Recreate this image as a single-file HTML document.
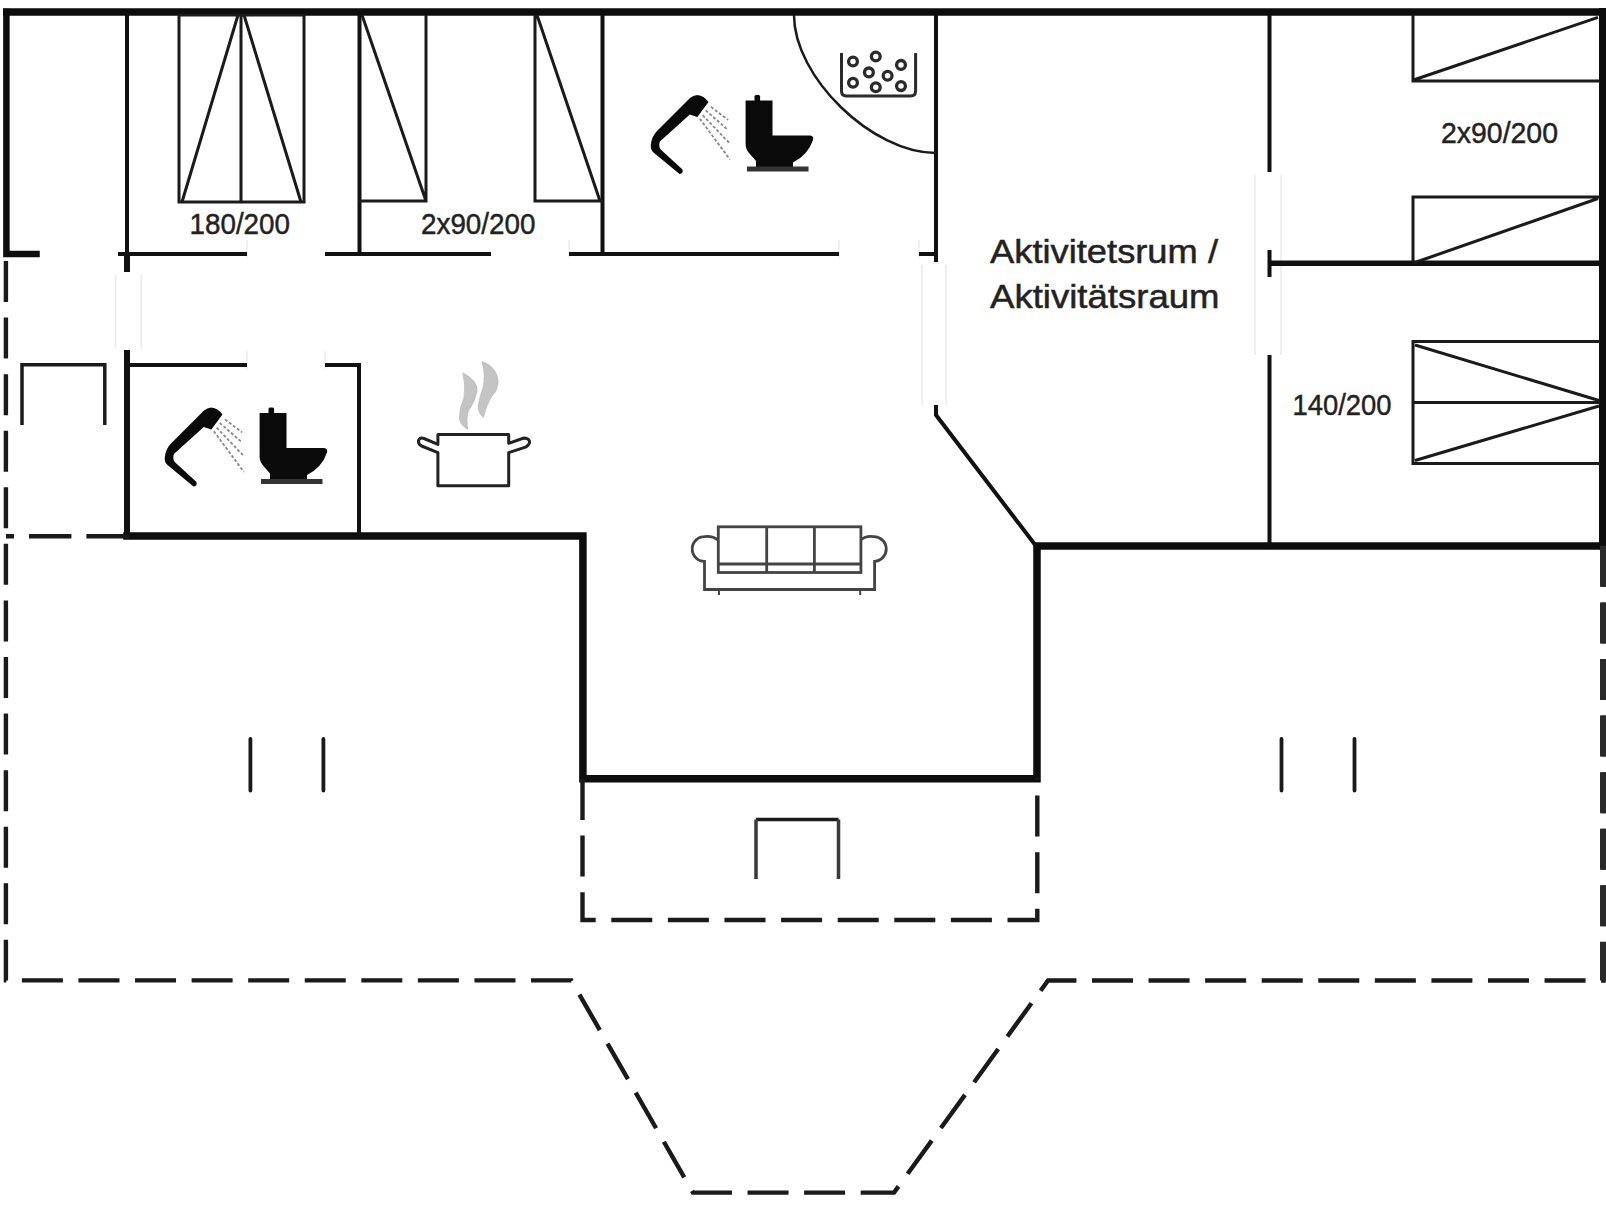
<!DOCTYPE html>
<html><head><meta charset="utf-8">
<style>
html,body{margin:0;padding:0;background:#fff;width:1606px;height:1205px;overflow:hidden}
svg{display:block}
text{font-family:"Liberation Sans",sans-serif;fill:#222}
</style></head><body>
<svg width="1606" height="1205" viewBox="0 0 1606 1205">
<rect width="1606" height="1205" fill="#fff"/>
<!-- faint door frames -->
<g stroke="#ececec" stroke-width="1.5" fill="none">
  <path d="M115.6,275 V348 M141.3,275 V348"/>
  <path d="M922,265 V405 M946,265 V405"/>
  <path d="M1255,175 V355 M1281,175 V355"/>
  <path d="M247,240 V258 M569,240 V258 M839,240 V258 M919,240 V258"/>
  <path d="M247,351 V369 M325,351 V369"/>
</g>
<!-- thick walls -->
<g stroke="#0d0d0d" fill="none" stroke-linecap="square">
  <path d="M6.75,12 H1606" stroke-width="7.5"/>
  <path d="M6.4,12 V254 H36.5" stroke-width="6.5"/>
  <path d="M1603.5,12.5 V545" stroke-width="9"/>
  <path d="M127,536 H582.9 V778.7 H1037 V546 H1606" stroke-width="7.5"/>
</g>
<!-- thin walls -->
<g stroke="#111" fill="none" stroke-width="4">
  <path d="M127,15 V254"/><path d="M127,252 V272" stroke-width="6"/>
  <path d="M118,254 H247 M325,254 H491 M569,254 H839 M919,254 H936"/>
  <path d="M359.5,15 V254 M602.5,15 V254 M936,15 V262"/>
  <path d="M1269.5,15 V172 M1269.5,250 V277 M1269.5,355 V545"/><path d="M1269.5,263.3 H1600" stroke-width="5.5"/>
  <path d="M127,350 V536" stroke-width="6"/><path d="M127,365 H247 M325,365 H359 V536"/>
  <path d="M936,405 V415 L1036,546"/>
</g>
<!-- dashed -->
<g stroke="#1a1a1a" fill="none" stroke-width="4.4">
  <path d="M5.9,261 V980.4 H571.3 L693,1192.6 H894 L1048,980.5 H1603.5 V545" stroke-dasharray="41 15.57"/>
  <path d="M128.8,536.2 H6" stroke-dasharray="42.4 15"/>
  <path d="M582.5,779 V920 H1037.3 V778" stroke-dasharray="41 15.6"/>
  <path d="M1603.5,980.5 V545" stroke="#2a2a2a" stroke-width="7" stroke-dasharray="41 15.57" stroke-dashoffset="2.35"/>
</g>
<!-- beds -->
<g stroke="#1a1a1a" fill="none" stroke-width="3">
  <rect x="179" y="15" width="125" height="187"/>
  <path d="M241,15 V202 M182,202 L238,15 M244,15 L301,202"/>
  <path d="M359,201 H426 V15 M362,15 L426,201"/>
  <path d="M535,15 V201 H603 M537,15 L600,201"/>
  <path d="M1413,15 V81 H1600 M1413.5,80 L1598,17.4"/>
  <path d="M1600,197 H1413 V263 M1413.5,263 L1598,198.5"/>
  <path d="M1600,341.5 H1413 V463.5 H1600 M1413,402.5 H1600 M1415,345 L1599,400.5 M1415,460.5 L1599,406"/>
</g>
<!-- door arc -->
<path d="M794,15 C794,77 872,153 936,153" stroke="#1a1a1a" stroke-width="2.5" fill="none"/>
<!-- marks -->
<g stroke="#1a1a1a" stroke-width="3" fill="none">
  <path d="M250.4,739 V790.5 M323.4,739 V790.5 M1281.5,739 V790.5 M1354.5,739 V790.5" stroke-width="3.8" stroke-linecap="round"/>
  <path d="M22,425 V364.7 H104.8 V425" stroke-width="3.5"/>
  <path d="M756,819.5 H838.5" stroke-width="3.5"/><path d="M756,879 V819.5 M838.5,819.5 V879" stroke="#3a3a3a" stroke-width="3.5"/>
</g>

<!-- shower + toilet set 1 -->
<g id="wc">
  <path fill="#0a0a0a" d="M697.3,94.9 Q704,95.5 708.5,102 L697.3,116.9 L689.8,114.6 L659.9,141.5 Q658.3,146 660.7,149.5 L682.5,169.5 Q683.5,173.5 679.5,174 L653.5,152.5 Q650.3,150 650.8,145 Q651.5,137 656.5,131.5 L690,98 Q693,95.2 697.3,94.9 Z"/>
  <g stroke="#888" stroke-width="1.8" stroke-dasharray="3 2" fill="none">
    <path d="M711,106.9 L728.1,119.9 M705.7,110.4 L728.1,130 M702.7,115.2 L729.9,143.6 M699.8,118.7 L729.9,159.5"/>
  </g>
  <path fill="#0a0a0a" d="M745.6,100.6 H772.5 V135.5 H810 Q814,136 813,140 Q808,155 793,162.5 V167 H756 V161 L749,153 Q745.6,149 745.6,144 Z"/>
  <rect x="754.5" y="95" width="5.6" height="7" rx="1.5" fill="#0a0a0a"/>
  <rect x="747" y="166.5" width="61.5" height="5" fill="#333"/>
</g>
<use href="#wc" transform="translate(-486,312.5)"/>
<!-- jacuzzi -->
<g stroke="#2a2a2a" fill="none">
  <path d="M841.5,53 V91 Q841.5,96 846.5,96 H910.6 Q915.6,96 915.6,91 V53" stroke-width="3"/>
  <g stroke-width="3.3">
  <circle cx="853" cy="61.5" r="4.4"/><circle cx="875.8" cy="56.5" r="4.4"/><circle cx="901" cy="64.9" r="4.4"/>
  <circle cx="868.9" cy="72.4" r="4.4"/><circle cx="887.6" cy="75.8" r="4.4"/><circle cx="853" cy="82.7" r="4.4"/>
  <circle cx="875.8" cy="87.3" r="4.4"/><circle cx="901" cy="86.1" r="4.4"/>
  </g>
</g>
<!-- pot -->
<g stroke="#222" fill="none" stroke-width="3" stroke-linejoin="round">
  <path d="M437.9,452.6 V485.7 H508.7 V452.6 L526.2,446.8 Q531.5,443 528.5,439.5 Q525,437 521,439 L508.7,443.3 V434.6 H437.9 V444.4 L424,438.5 Q420,437 418.5,440.5 Q418,444 421.6,446 Z"/>
</g>
<g fill="#c4c4c4" stroke="#b8b8b8" stroke-width="0.8">
  <path d="M462.9,372.9 Q478,381 477,391 Q475,402 468,411.4 Q466,420 467.6,429.4 Q459,424 459.6,417 Q459.5,408 464,398 Q466,385 462.9,372.9 Z"/>
  <path d="M482.2,361.6 Q497,367 498.1,381.6 Q497.5,391 491.5,396.5 Q486,405 483.5,417.4 Q478,413 478.2,406 Q480,396 483,388 Q486,376 482.2,361.6 Z"/>
</g>
<!-- sofa -->
<g stroke="#444" fill="none" stroke-width="2.8">
  <rect x="718.3" y="526.8" width="142.6" height="45.7"/>
  <path d="M766.7,526.8 V572.5 M814.4,526.8 V572.5 M718.3,564 H860.9"/>
  <path d="M718.3,540 Q712,535.5 704.5,536.7 A12.3,12.3 0 0 0 704.5,561.3 V589.5 H874.6 V561.3 A12.3,12.3 0 0 0 873.3,536.7 Q866,535.5 860.9,540"/>
  <path d="M719,590 V595 M860.2,590 V595" stroke-width="2"/>
</g>
<!-- text -->
<g font-size="29.5" stroke="#222" stroke-width="0.45">
  <text x="189.5" y="234" textLength="100.5" lengthAdjust="spacingAndGlyphs">180/200</text>
  <text x="421" y="233.5" textLength="114.5" lengthAdjust="spacingAndGlyphs">2x90/200</text>
  <text x="1441" y="142.8" textLength="117" lengthAdjust="spacingAndGlyphs">2x90/200</text>
  <text x="1292.5" y="415" textLength="99" lengthAdjust="spacingAndGlyphs">140/200</text>
</g>
<g font-size="34" stroke="#222" stroke-width="0.5">
  <text x="990" y="263" textLength="228" lengthAdjust="spacingAndGlyphs">Aktivitetsrum /</text>
  <text x="990" y="307.5" textLength="229.5" lengthAdjust="spacingAndGlyphs">Aktivitätsraum</text>
</g>
</svg>
</body></html>
